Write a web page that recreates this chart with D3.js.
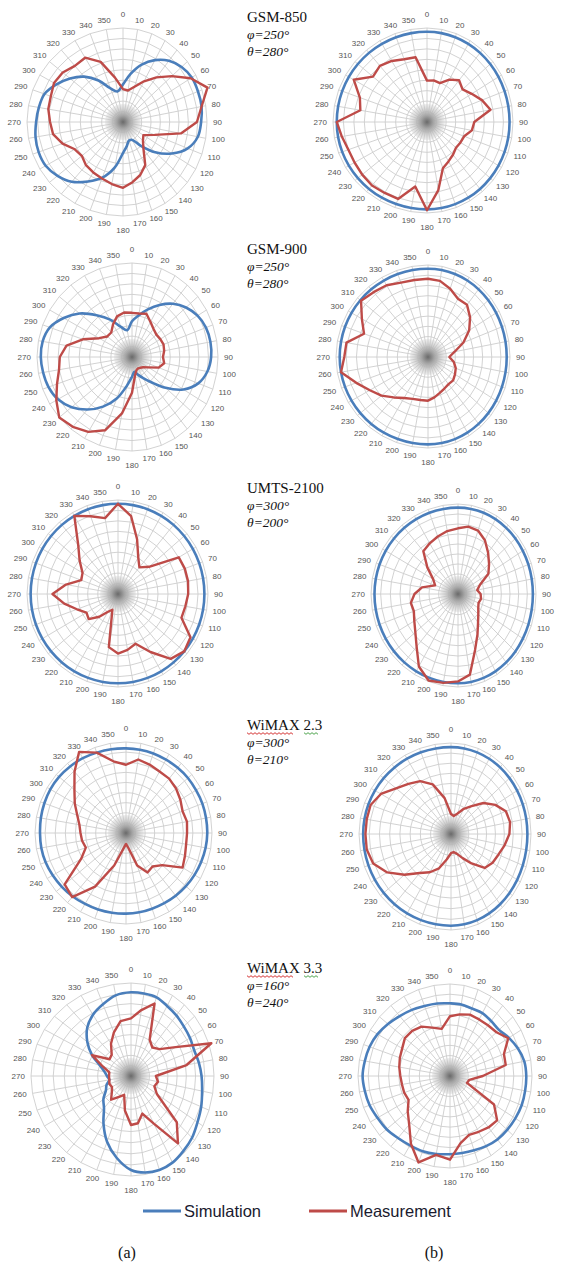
<!DOCTYPE html>
<html><head><meta charset="utf-8">
<script src="https://cdn.jsdelivr.net/npm/d3@7"></script>
<style>body{margin:0;background:#fff}svg{display:block}</style>
</head><body>
<svg id="c" width="571" height="1267"></svg>
<script>
// ---------- data ----------
const angles = d3.range(0, 360, 10);
const angleLabels = angles.map(String);
const bands = ["GSM-850", "GSM-900", "UMTS-2100", "WiMAX 2.3", "WiMAX 3.3"];
const phiLabels = ["φ=250°", "φ=250°", "φ=300°", "φ=300°", "φ=160°"];
const thetaLabels = ["θ=280°", "θ=280°", "θ=200°", "θ=210°", "θ=240°"];
const seriesNames = ["Simulation", "Measurement"];
const panelNames = ["(a)", "(b)"];

// simulation (blue) and measurement (red), normalised radius, at 0,10,...,350 deg
const simA1 = [.40,.52,.65,.76,.85,.91,.945,.95,.95,.93,.905,.82,.67,.50,.33,.22,.21,.26,.33,.49,.63,.73,.83,.89,.93,.935,.925,.905,.89,.87,.80,.72,.63,.51,.38,.33];
const measA1 = [.35,.34,.40,.50,.62,.76,.93,1.07,.95,.88,.70,.40,.28,.31,.38,.53,.60,.65,.70,.67,.64,.62,.60,.56,.58,.67,.74,.76,.79,.80,.83,.82,.78,.79,.68,.48];
const simB1 = [.96,.96,.96,.96,.96,.96,.96,.96,.96,.96,.96,.96,.96,.96,.96,.96,.96,.96,.96,.96,.96,.96,.96,.96,.96,.96,.96,.96,.96,.96,.96,.96,.96,.96,.96,.96];
const measB1 = [.44,.45,.44,.52,.58,.54,.60,.68,.75,.55,.53,.46,.45,.44,.47,.50,.54,.76,.97,.72,.90,.90,.91,.90,.89,.89,.92,.96,.72,.76,.90,.75,.78,.75,.71,.70];
const simA2 = [.38,.45,.54,.64,.74,.82,.88,.915,.926,.92,.89,.82,.69,.51,.35,.26,.20,.16,.21,.31,.47,.61,.73,.83,.90,.935,.95,.96,.955,.92,.83,.72,.58,.46,.34,.29];
const measA2 = [.47,.47,.49,.43,.39,.37,.38,.39,.38,.36,.38,.33,.22,.17,.15,.14,.15,.20,.38,.61,.83,.92,.97,1.0,.92,.84,.78,.76,.70,.55,.40,.34,.34,.40,.46,.48];
const simB2 = [.96,.96,.96,.96,.96,.96,.96,.96,.96,.96,.96,.96,.96,.96,.96,.96,.96,.96,.96,.96,.96,.96,.96,.96,.96,.96,.96,.96,.96,.96,.96,.96,.96,.96,.96,.96];
const measB2 = [.85,.84,.79,.73,.74,.67,.58,.46,.33,.26,.32,.36,.38,.40,.39,.40,.42,.45,.48,.48,.49,.52,.58,.66,.73,.83,.96,.91,.90,.74,.83,.95,.92,.90,.86,.85];
const simA3 = [.96,.96,.96,.96,.96,.96,.96,.96,.96,.96,.96,.96,.96,.96,.96,.96,.96,.96,.96,.96,.96,.96,.96,.96,.96,.96,.96,.96,.96,.96,.96,.96,.96,.96,.96,.96];
const measA3 = [.96,.84,.62,.45,.37,.45,.78,.79,.79,.78,.76,.75,.93,.96,.91,.72,.57,.61,.64,.58,.18,.22,.32,.42,.40,.48,.60,.72,.58,.43,.45,.55,.68,.96,.88,.82];
const simB3 = [.96,.96,.96,.96,.96,.96,.96,.96,.96,.96,.96,.96,.96,.96,.96,.96,.96,.96,.96,.96,.96,.96,.96,.96,.96,.96,.96,.96,.96,.96,.96,.96,.96,.96,.96,.96];
const measB3 = [.73,.76,.75,.69,.60,.52,.45,.30,.25,.29,.30,.28,.30,.34,.40,.50,.64,.88,.94,.97,.99,.90,.74,.64,.58,.54,.55,.50,.42,.28,.33,.46,.62,.65,.68,.71];
const simA4 = [.93,.93,.93,.93,.935,.94,.94,.945,.945,.945,.94,.93,.92,.91,.90,.89,.885,.885,.886,.89,.895,.90,.91,.92,.93,.94,.945,.945,.95,.955,.96,.96,.955,.95,.94,.935];
const measA4 = [.75,.82,.80,.78,.78,.76,.73,.70,.72,.71,.71,.73,.76,.55,.48,.50,.38,.17,.12,.18,.38,.68,.92,.88,.57,.47,.49,.50,.52,.57,.65,.74,.88,1.03,.94,.80];
const simB4 = [.955,.955,.955,.955,.955,.955,.955,.955,.955,.955,.955,.955,.955,.955,.955,.955,.955,.955,.955,.955,.955,.955,.955,.955,.955,.955,.955,.955,.955,.955,.955,.955,.955,.955,.955,.955];
const measB4 = [.22,.20,.24,.32,.40,.53,.64,.73,.75,.73,.68,.63,.60,.55,.40,.29,.22,.19,.20,.27,.38,.46,.53,.66,.80,.90,.93,.93,.93,.93,.88,.78,.72,.67,.58,.40];
const simA5 = [.90,.90,.90,.87,.85,.83,.82,.81,.83,.85,.87,.90,.925,.96,.98,1.0,1.0,.98,.94,.83,.70,.55,.42,.36,.29,.26,.22,.24,.27,.33,.45,.57,.68,.76,.82,.88];
const measA5 = [.62,.72,.83,.45,.40,.45,.62,1.03,.68,.30,.33,.30,.36,.72,.88,.55,.40,.48,.49,.35,.20,.24,.31,.25,.22,.23,.22,.22,.22,.30,.45,.28,.30,.40,.50,.60];
const simB5 = [.79,.79,.78,.79,.78,.78,.83,.88,.92,.93,.93,.93,.92,.91,.90,.88,.86,.85,.85,.86,.87,.87,.88,.90,.91,.93,.94,.95,.94,.93,.91,.88,.85,.83,.81,.80];
const measB5 = [.65,.68,.71,.71,.72,.74,.82,.70,.69,.40,.24,.22,.62,.75,.73,.70,.68,.74,.91,.87,1.0,.85,.69,.60,.52,.53,.53,.54,.56,.58,.60,.64,.64,.62,.56,.52];

const simSeries = [simA1, simB1, simA2, simB2, simA3, simB3, simA4, simB4, simA5, simB5];
const measSeries = [measA1, measB1, measA2, measB2, measA3, measB3, measA4, measB4, measA5, measB5];

// ---------- layout (positions / sizes) ----------
// r: outer ring radii [top, right, bottom, left]
const geo = [
  {cx:123, cy:122, r:[94,84,94,96]},
  {cx:427, cy:122, r:[94,86,91,94]},
  {cx:132, cy:357, r:[94,86,94,95]},
  {cx:428, cy:357, r:[92,82,91,92]},
  {cx:118, cy:594, r:[94,90,93,91]},
  {cx:458, cy:594, r:[90,78,93,87]},
  {cx:126, cy:833, r:[91,86,91,91]},
  {cx:451, cy:834, r:[91,80,96,92]},
  {cx:131, cy:1076, r:[93,83,100,100]},
  {cx:450, cy:1076, r:[92,82,92,92]}
];
const titleY = [17, 249, 488, 725, 968];

const BLUE = "#4a7ebb", RED = "#be4b48", GRID = "#cdcdcd";

const svg = d3.select("#c");
const defs = svg.append("defs");
const grad = defs.append("radialGradient").attr("id", "hub");
grad.append("stop").attr("offset", "0%").attr("stop-color", "#6a6a6a");
grad.append("stop").attr("offset", "35%").attr("stop-color", "#a4a4a4");
grad.append("stop").attr("offset", "100%").attr("stop-color", "#d6d6d6").attr("stop-opacity", 0.4);

const aScale = d3.scaleLinear().domain([0, 360]).range([0, 2 * Math.PI]);

function makeProj(g) {
  const sxR = d3.scaleLinear().domain([0, 1]).range([0, g.r[1]]);
  const sxL = d3.scaleLinear().domain([0, 1]).range([0, g.r[3]]);
  const syT = d3.scaleLinear().domain([0, 1]).range([0, g.r[0]]);
  const syB = d3.scaleLinear().domain([0, 1]).range([0, g.r[2]]);
  return (deg, v, extra = 0) => {
    const a = aScale(deg), s = Math.sin(a), c = Math.cos(a);
    const rx = (s >= 0 ? sxR(v) : sxL(v)) + extra;
    const ry = (c >= 0 ? syT(v) : syB(v)) + extra;
    return [g.cx + s * rx, g.cy - c * ry];
  };
}

const closedLinear = d3.line().curve(d3.curveLinearClosed);
const closedSmooth = d3.line().curve(d3.curveCatmullRomClosed.alpha(0.5));

geo.forEach((g, i) => {
  const P = makeProj(g);
  const gg = svg.append("g");
  d3.range(1, 10).forEach(k => {
    gg.append("path")
      .attr("d", closedLinear(angles.map(a => P(a, k / 9))))
      .attr("fill", "none").attr("stroke", GRID).attr("stroke-width", 0.9);
  });
  angles.forEach(a => {
    const p = P(a, 1);
    gg.append("line").attr("x1", g.cx).attr("y1", g.cy).attr("x2", p[0]).attr("y2", p[1])
      .attr("stroke", GRID).attr("stroke-width", 0.9);
  });
  gg.append("circle").attr("cx", g.cx).attr("cy", g.cy).attr("r", 18).attr("fill", "url(#hub)");
  angles.forEach((a, j) => {
    const t = angleLabels[j];
    const ar = aScale(a);
    const hw = t.length * 2.25;
    const p = P(a, 1, 6);
    const x = p[0] + Math.sin(ar) * hw;
    let y = p[1] - Math.cos(ar) * 3;
    if (a === 0) y -= 5;
    if (a === 180) y += 5;
    gg.append("text").attr("x", x).attr("y", y)
      .attr("text-anchor", "middle").attr("dominant-baseline", "central")
      .attr("font-family", "Liberation Sans, Arial, sans-serif").attr("font-size", 8)
      .attr("fill", "#555").text(t);
  });
  gg.append("path")
    .attr("d", closedSmooth(simSeries[i].map((v, j) => P(angles[j], v))))
    .attr("fill", "none").attr("stroke", BLUE).attr("stroke-width", 2.6).attr("stroke-linejoin", "round");
  gg.append("path")
    .attr("d", closedLinear(measSeries[i].map((v, j) => P(angles[j], v))))
    .attr("fill", "none").attr("stroke", RED).attr("stroke-width", 2.4).attr("stroke-linejoin", "round");
});

function squiggle(x0, x1, y, color) {
  const pts = [];
  for (let x = x0, k = 0; x <= x1; x += 2, k++) pts.push([x, y + (k % 2 ? 1.3 : -0.3)]);
  svg.append("path").attr("d", d3.line()(pts)).attr("fill", "none")
    .attr("stroke", color).attr("stroke-width", 0.9);
}
bands.forEach((b, i) => {
  const y = titleY[i];
  const tg = svg.append("g").attr("font-family", "Liberation Serif, Times New Roman, serif").attr("fill", "#111");
  tg.append("text").attr("x", 247).attr("y", y).attr("dominant-baseline", "central")
    .attr("font-size", 15).text(b);
  tg.append("text").attr("x", 247).attr("y", y + 17).attr("dominant-baseline", "central")
    .attr("font-size", 13.5).attr("font-style", "italic").text(phiLabels[i]);
  tg.append("text").attr("x", 247).attr("y", y + 34).attr("dominant-baseline", "central")
    .attr("font-size", 13.5).attr("font-style", "italic").text(thetaLabels[i]);
  if (b.startsWith("WiMAX")) {
    squiggle(247, 294, y + 8, "#d02020");
    squiggle(304, 318, y + 8, "#3a9a3a");
  }
});

const legY = 1211;
svg.append("line").attr("x1", 143).attr("x2", 181).attr("y1", legY).attr("y2", legY)
  .attr("stroke", BLUE).attr("stroke-width", 3);
svg.append("text").attr("x", 184).attr("y", legY).attr("dominant-baseline", "central")
  .attr("font-family", "Liberation Sans, Arial, sans-serif").attr("font-size", 16.5)
  .attr("fill", "#1a1a2e").text(seriesNames[0]);
svg.append("line").attr("x1", 309).attr("x2", 347).attr("y1", legY).attr("y2", legY)
  .attr("stroke", RED).attr("stroke-width", 3);
svg.append("text").attr("x", 350).attr("y", legY).attr("dominant-baseline", "central")
  .attr("font-family", "Liberation Sans, Arial, sans-serif").attr("font-size", 16.5)
  .attr("fill", "#1a1a2e").text(seriesNames[1]);

[[127, panelNames[0]], [434, panelNames[1]]].forEach(([x, t]) => {
  svg.append("text").attr("x", x).attr("y", 1252).attr("text-anchor", "middle")
    .attr("dominant-baseline", "central")
    .attr("font-family", "Liberation Serif, Times New Roman, serif").attr("font-size", 16)
    .attr("fill", "#111").text(t);
});
</script>
</body></html>
